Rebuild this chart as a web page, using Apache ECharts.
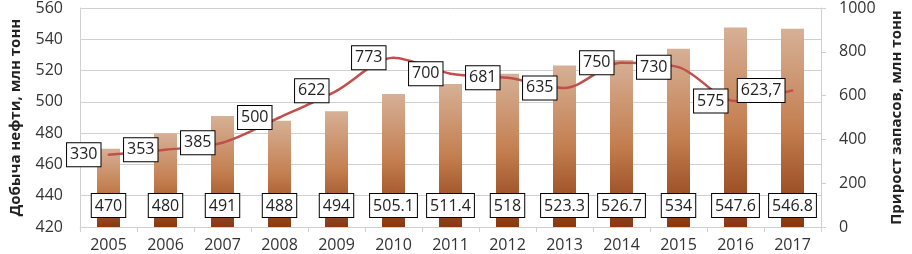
<!DOCTYPE html>
<html><head><meta charset="utf-8">
<script src="https://cdn.jsdelivr.net/npm/echarts@6/dist/echarts.min.js"></script>
<style>html,body{margin:0;padding:0;background:#fff}#c{width:912px;height:254px}</style>
</head><body><div id="c"></div>
<script>
const years = ['2005','2006','2007','2008','2009','2010','2011','2012','2013','2014','2015','2016','2017'];
const production = [470, 480, 491, 488, 494, 505.1, 511.4, 518, 523.3, 526.7, 534, 547.6, 546.8];
const reserves = [330, 353, 385, 500, 622, 773, 700, 681, 635, 750, 730, 575, 623.7];
const leftName = 'Добыча нефти, млн тонн';
const rightName = 'Прирост запасов, млн тонн';

const font = '"Open Sans", "Noto Sans", sans-serif';
const chart = echarts.init(document.getElementById('c'), null, {renderer:'canvas'});
chart.setOption({
  animation: false,
  textStyle: {fontFamily: font},
  grid: {left: 70, right: 77, top: 6, bottom: 27, containLabel: false},
  xAxis: {
    type: 'category', data: years,
    axisLine: {show: true, lineStyle: {color: '#d0d0d0'}},
    axisTick: {show: true, length: 5, lineStyle: {color: '#d0d0d0'}},
    axisLabel: {color: '#333', fontSize: 16, fontFamily: font, margin: 10}
  },
  yAxis: [{
    type: 'value', min: 420, max: 560, interval: 20,
    name: leftName, nameLocation: 'middle', nameGap: 57,
    nameTextStyle: {fontSize: 15, fontWeight: 'bold', color: '#222', fontFamily: font},
    axisLine: {show: true, lineStyle: {color: '#d0d0d0'}},
    axisTick: {show: false},
    axisLabel: {color: '#333', fontSize: 16, fontFamily: font, margin: 17},
    splitLine: {lineStyle: {color: '#d0d0d0'}}
  }, {
    type: 'value', min: 0, max: 1000, interval: 200,
    name: rightName, nameLocation: 'middle', nameGap: 68, nameRotate: 90,
    nameTextStyle: {fontSize: 15, fontWeight: 'bold', color: '#222', fontFamily: font},
    axisLine: {show: true, lineStyle: {color: '#d0d0d0'}},
    axisTick: {show: true, length: 5, lineStyle: {color: '#d0d0d0'}},
    axisLabel: {color: '#333', fontSize: 16, fontFamily: font, margin: 18, formatter: v => String(v)},
    splitLine: {show: false}
  }],
  series: [{
    type: 'bar', data: production, yAxisIndex: 0, barWidth: 23,
    itemStyle: {color: new echarts.graphic.LinearGradient(0,0,0,1,[
      {offset: 0, color: '#d6b096'},
      {offset: 0.5, color: '#c47f50'},
      {offset: 1, color: '#883810'}
    ])},
    label: {
      show: true, position: 'insideBottom', distance: 10,
      color: '#222', fontSize: 16, fontFamily: font, lineHeight: 18,
      backgroundColor: '#fff', borderColor: '#000', borderWidth: 1,
      padding: [3, 3, 2, 3],
      formatter: p => String(p.value)
    },
    z: 2
  }, {
    type: 'line', data: reserves, yAxisIndex: 1, smooth: 0.3,
    symbol: 'circle', symbolSize: 2, showSymbol: true,
    itemStyle: {color: '#c0504d'},
    lineStyle: {color: '#c0504d', width: 2.5},
    label: {
      show: true, position: 'left', distance: 7,
      color: '#222', fontSize: 16, fontFamily: font, lineHeight: 18,
      backgroundColor: '#fff', borderColor: '#000', borderWidth: 1,
      padding: [3, 3, 2, 3],
      formatter: p => String(p.value).replace('.', ',')
    },
    labelLayout: {hideOverlap: false},
    z: 3
  }]
});
</script></body></html>
